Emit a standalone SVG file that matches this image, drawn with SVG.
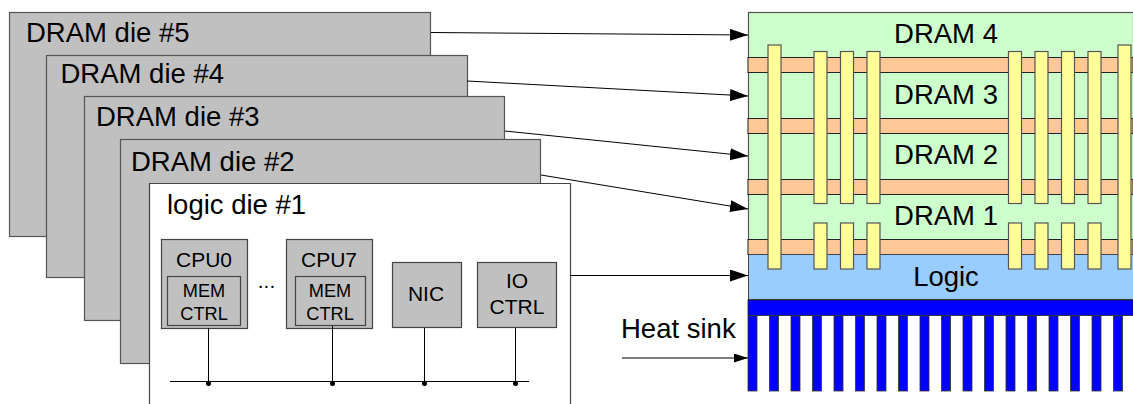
<svg xmlns="http://www.w3.org/2000/svg" width="1133" height="404" viewBox="0 0 1133 404">
<style>
text{font-family:"Liberation Sans",Arial,sans-serif;fill:#000}
.t{font-size:27.500px}.c{font-size:27.500px;text-anchor:middle}.s{font-size:21px;text-anchor:middle}.m{font-size:18.200px;text-anchor:middle}
.die{fill:#c0c0c0;stroke:#555;stroke-width:1.2}
.box{fill:#c0c0c0;stroke:#444;stroke-width:1.2}
.band{fill:#ffc896;stroke:#222;stroke-width:1}
.pil{fill:#ffff99;stroke:#555;stroke-width:1.2}
.fin{fill:#0000ff;stroke:#333;stroke-width:.8}
.w{fill:none;stroke:#000;stroke-width:1}
</style>
<defs><marker id="a" markerUnits="userSpaceOnUse" markerWidth="20" markerHeight="14" refX="18" refY="6" orient="auto"><path d="M0 0L18 6L0 12Z" fill="#000"/></marker>
<marker id="b" markerUnits="userSpaceOnUse" markerWidth="16" markerHeight="10" refX="14" refY="4.500" orient="auto"><path d="M0 0L14 4.500L0 9Z" fill="#000"/></marker></defs>
<g id="die5"><rect class="die" x="9.500" y="12.500" width="421" height="224"/><text class="t" x="26" y="42">DRAM die #5</text></g>
<g id="die4"><rect class="die" x="46.500" y="55.500" width="421" height="222"/><text class="t" x="60.500" y="82.500">DRAM die #4</text></g>
<g id="die3"><rect class="die" x="84.500" y="96.500" width="420" height="224"/><text class="t" x="96" y="125.500">DRAM die #3</text></g>
<g id="die2"><rect class="die" x="120.500" y="139.500" width="420" height="224"/><text class="t" x="131" y="171">DRAM die #2</text></g>
<g id="die1"><path d="M149.500 404V183.500H570.500V404" fill="#fff" stroke="#444" stroke-width="1.200"/><text class="t" x="167" y="214">logic die #1</text></g>
<g id="cpu0"><rect class="box" x="161.500" y="239.500" width="86" height="89"/><text class="s" x="204" y="267">CPU0</text><rect class="box" x="167.500" y="276.500" width="73" height="49"/><text class="m" x="204" y="297">MEM</text><text class="m" x="204" y="320">CTRL</text></g>
<text x="266.500" y="288" font-size="21" text-anchor="middle" id="dots">...</text>
<g id="cpu7"><rect class="box" x="286.500" y="239.500" width="86" height="89"/><text class="s" x="329" y="267">CPU7</text><rect class="box" x="295.500" y="276.500" width="70" height="49"/><text class="m" x="330" y="297">MEM</text><text class="m" x="330" y="320">CTRL</text></g>
<g id="nic"><rect class="box" x="392.500" y="262.500" width="69" height="65"/><text class="s" x="426" y="301">NIC</text></g>
<g id="ioctrl"><rect class="box" x="477.500" y="262.500" width="79" height="65"/><text class="s" x="517" y="288">IO</text><text class="s" x="517" y="314">CTRL</text></g>
<g id="connectors">
<path class="w" d="M170 381.500H529M208.500 328V383M332.500 326V383M424.500 328V383M515.500 328V383"/>
<g fill="#000"><circle cx="208.500" cy="383.500" r="2.500"/><circle cx="332.500" cy="383.500" r="2.500"/><circle cx="424.500" cy="383.500" r="2.500"/><circle cx="515.500" cy="383.500" r="2.500"/></g>
<path class="w" marker-end="url(#a)" d="M431 32.500L748 35"/><path class="w" marker-end="url(#a)" d="M467 81L748 96"/><path class="w" marker-end="url(#a)" d="M505 131L748 156"/><path class="w" marker-end="url(#a)" d="M541 175L748 209"/><path class="w" marker-end="url(#a)" d="M570 275.500H748"/><path class="w" marker-end="url(#b)" d="M622 358H748"/>
</g>
<g id="stack">
<rect x="748.500" y="12.500" width="385" height="242" fill="#ccffcc" stroke="#555" stroke-width="1.200"/>
<rect class="band" x="748" y="57.500" width="385" height="15"/><rect class="band" x="748" y="118.500" width="385" height="15"/><rect class="band" x="748" y="179.500" width="385" height="15"/><rect class="band" x="748" y="239.500" width="385" height="15"/>
<rect x="748.500" y="254.500" width="385" height="45" fill="#99ccff" stroke="#444"/>
<rect x="748" y="300" width="385" height="15.500" fill="#0000ff" stroke="#222" stroke-width=".8"/>
<g id="fins"><rect class="fin" x="748" y="316" width="9" height="75"/><rect class="fin" x="769.500" y="316" width="9" height="75"/><rect class="fin" x="791" y="316" width="9" height="75"/><rect class="fin" x="812.500" y="316" width="9" height="75"/><rect class="fin" x="834" y="316" width="9" height="75"/><rect class="fin" x="855.500" y="316" width="9" height="75"/><rect class="fin" x="877" y="316" width="9" height="75"/><rect class="fin" x="898.500" y="316" width="9" height="75"/><rect class="fin" x="920" y="316" width="9" height="75"/><rect class="fin" x="941.500" y="316" width="9" height="75"/><rect class="fin" x="963" y="316" width="9" height="75"/><rect class="fin" x="984.500" y="316" width="9" height="75"/><rect class="fin" x="1006" y="316" width="9" height="75"/><rect class="fin" x="1027.500" y="316" width="9" height="75"/><rect class="fin" x="1049" y="316" width="9" height="75"/><rect class="fin" x="1070.500" y="316" width="9" height="75"/><rect class="fin" x="1092" y="316" width="9" height="75"/><rect class="fin" x="1113.500" y="316" width="9" height="75"/></g>
<g id="pillars">
<rect class="pil" x="768" y="45" width="13" height="224"/><rect class="pil" x="1118" y="45" width="13" height="224"/>
<rect class="pil" x="814" y="51.500" width="13" height="152"/><rect class="pil" x="840.500" y="51.500" width="13" height="152"/><rect class="pil" x="867" y="51.500" width="13" height="152"/><rect class="pil" x="1008.500" y="51.500" width="13" height="152"/><rect class="pil" x="1035" y="51.500" width="13" height="152"/><rect class="pil" x="1061.500" y="51.500" width="13" height="152"/><rect class="pil" x="1088" y="51.500" width="13" height="152"/>
<rect class="pil" x="814" y="223" width="13" height="46"/><rect class="pil" x="840.500" y="223" width="13" height="46"/><rect class="pil" x="867" y="223" width="13" height="46"/><rect class="pil" x="1008.500" y="223" width="13" height="46"/><rect class="pil" x="1035" y="223" width="13" height="46"/><rect class="pil" x="1061.500" y="223" width="13" height="46"/><rect class="pil" x="1088" y="223" width="13" height="46"/>
</g>
<text class="c" x="946" y="43">DRAM 4</text><text class="c" x="946" y="104">DRAM 3</text><text class="c" x="946" y="164">DRAM 2</text><text class="c" x="946" y="225">DRAM 1</text><text class="c" x="946" y="286">Logic</text>
</g>
<text class="t" x="621" y="338">Heat sink</text>
</svg>
